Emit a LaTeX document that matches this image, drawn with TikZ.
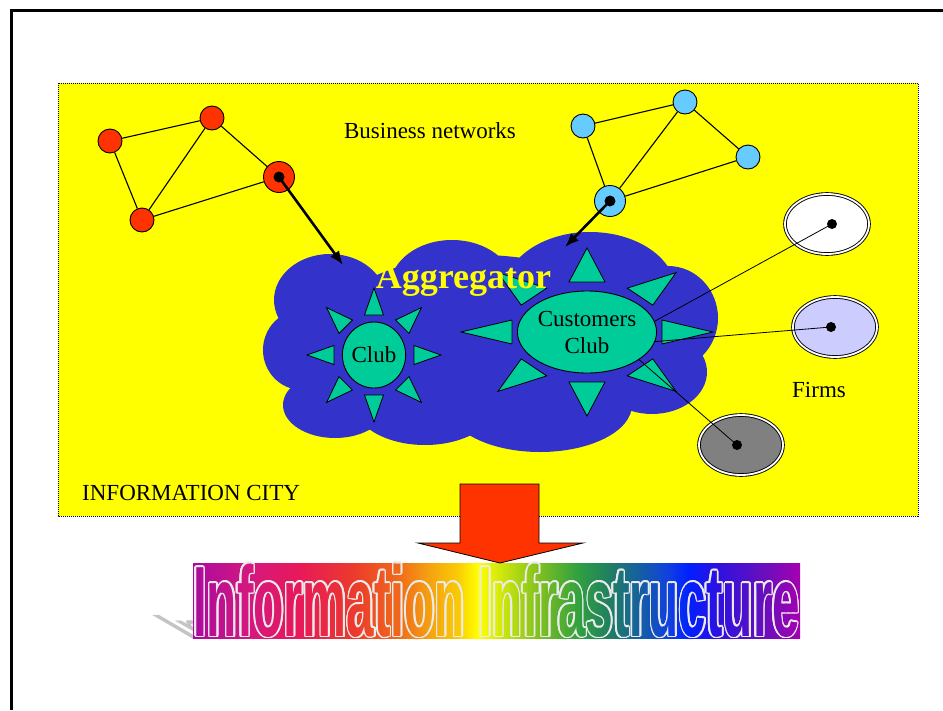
\documentclass[tikz,border=0pt]{standalone}
\usepackage{fontspec}
\setmainfont{Liberation Serif}
\newfontfamily\wordartfamily{Liberation Sans}
\usetikzlibrary{shapes.geometric,arrows.meta,calc}

\definecolor{cityyellow}{HTML}{FFFF00}
\definecolor{netred}{HTML}{FF3300}
\definecolor{netblue}{HTML}{66CCFF}
\definecolor{cloudblue}{HTML}{3333CC}
\definecolor{clubgreen}{HTML}{00CC99}
\definecolor{firmlilac}{HTML}{CCCCFF}
\definecolor{firmgray}{HTML}{808080}
\definecolor{shadowgray}{HTML}{C4C4C4}

% colour stops of the rainbow title (left to right)
\definecolor{g0}{RGB}{170,10,160}
\definecolor{g1}{RGB}{213,24,127}
\definecolor{g2}{RGB}{232,24,90}
\definecolor{g3}{RGB}{236,58,44}
\definecolor{g4}{RGB}{240,106,26}
\definecolor{g5}{RGB}{245,160,16}
\definecolor{g6}{RGB}{250,204,5}
\definecolor{g7}{RGB}{255,255,0}
\definecolor{g8}{RGB}{192,224,16}
\definecolor{g9}{RGB}{128,192,32}
\definecolor{g10}{RGB}{48,160,64}
\definecolor{g11}{RGB}{32,128,96}
\definecolor{g12}{RGB}{21,96,160}
\definecolor{g13}{RGB}{16,64,224}
\definecolor{g14}{RGB}{0,32,255}
\definecolor{g15}{RGB}{48,16,224}
\definecolor{g16}{RGB}{96,16,192}
\definecolor{g17}{RGB}{165,0,176}

% same stops as a shading; the band spans 25bp..75bp
\pgfdeclarehorizontalshading{rainbowband}{100bp}{%
  color(0bp)=(g0); color(25bp)=(g0); color(29.7bp)=(g1); color(33.65bp)=(g2);
  color(38.18bp)=(g3); color(41.88bp)=(g4); color(44.35bp)=(g5); color(46.82bp)=(g6);
  color(48.47bp)=(g7); color(50.94bp)=(g8); color(53.42bp)=(g9); color(56.71bp)=(g10);
  color(59.18bp)=(g11); color(61.65bp)=(g12); color(64.13bp)=(g13); color(65.77bp)=(g14);
  color(68.25bp)=(g15); color(71.54bp)=(g16); color(75bp)=(g17); color(100bp)=(g17)}

\newcommand\titlefont{\wordartfamily\bfseries\fontsize{100}{100}\selectfont}
\newcommand\titletext{Information Infrastructure}

\begin{document}
\begin{tikzpicture}[x=1pt, y=-1pt,
  netedge/.style={line width=1.1pt},
  rednode/.style={circle, draw, line width=0.9pt, fill=netred, minimum size=24pt, inner sep=0pt},
  hubred/.style={rednode, minimum size=31pt},
  bluenode/.style={circle, draw, line width=0.9pt, fill=netblue, minimum size=24pt, inner sep=0pt},
  hubblue/.style={bluenode, minimum size=31pt},
  hubdot/.style={circle, fill=black, minimum size=11pt, inner sep=0pt},
  feed/.style={line width=2.6pt, -{Latex[length=14pt,width=11pt]}},
  sunray/.style={fill=clubgreen, draw=black, line width=0.8pt},
  clubnode/.style={ellipse, draw, fill=clubgreen, line width=0.9pt, inner sep=0pt, align=center},
  firm/.style={ellipse, draw=black, double=white, double distance=1.8pt, line width=0.9pt,
               minimum width=84pt, minimum height=60pt, inner sep=0pt},
  firmlink/.style={line width=0.8pt},
  caption/.style={font=\fontsize{23}{27}\selectfont, inner sep=0pt},
  wordart/.style={font=\titlefont, xscale=0.494, inner sep=0pt},
]
\useasboundingbox (0,0) rectangle (943,710);
\fill[white] (0,0) rectangle (943,710);

% page frame
\draw[line width=3pt] (11,710) -- (11,10) -- (943,10);

% information city area
\draw[fill=cityyellow, dash pattern=on 1pt off 1pt, line width=0.9pt] (58,83) rectangle (918,516);
\node[caption, anchor=west] (city) at (82,493) {INFORMATION CITY};
\node[caption] (bizlabel) at (430,131) {Business networks};

% red business network
\node[rednode] (r1) at (110,141) {};
\node[rednode] (r2) at (212,118) {};
\node[rednode] (r3) at (142,220) {};
\node[hubred]  (r4) at (279,177) {};
\draw[netedge] (r1) -- (r2) (r1) -- (r3) (r2) -- (r3) (r2) -- (r4) (r3) -- (r4);
\node[hubdot] (r4dot) at (r4.center) {};

% blue business network
\node[bluenode] (b1) at (583,126) {};
\node[bluenode] (b2) at (685,102) {};
\node[bluenode] (b3) at (748,157) {};
\node[hubblue]  (b4) at (610,201) {};
\draw[netedge] (b1) -- (b2) (b1) -- (b4) (b2) -- (b4) (b2) -- (b3) (b3) -- (b4);
\node[hubdot] (b4dot) at (b4.center) {};

% aggregator cloud
\begin{scope}[cloudblue]
  \fill (330,300) ellipse [x radius=56pt, y radius=46pt];
  \fill (302,350) ellipse [x radius=39pt, y radius=40pt];
  \fill (335,405) ellipse [x radius=52pt, y radius=33pt];
  \fill (425,402) ellipse [x radius=72pt, y radius=43pt];
  \fill (452,287) ellipse [x radius=62pt, y radius=47pt];
  \fill (540,405) ellipse [x radius=92pt, y radius=47pt];
  \fill (590,292) ellipse [x radius=86pt, y radius=60pt];
  \fill (668,318) ellipse [x radius=50pt, y radius=52pt];
  \fill (652,372) ellipse [x radius=55pt, y radius=42pt];
  \fill (480,340) ellipse [x radius=160pt, y radius=85pt];
\end{scope}

% small club with its rays
\coordinate (c1) at (374,355);
\begin{scope}[shift={(c1)}]
  \foreach \a in {0,45,...,315}
    \filldraw[sunray] (\a:67) -- ($(\a:40)+(\a+90:9.5)$) -- ($(\a:40)+(\a-90:9.5)$) -- cycle;
\end{scope}
\node[clubnode, minimum width=62pt, minimum height=66pt, font=\fontsize{23}{27}\selectfont] (club) at (c1) {Club};

% customers club with its rays
\coordinate (c2) at (587,332);
\begin{scope}[shift={(c2)}, xscale=1.5]
  \foreach \a in {0,45,...,315}
    \filldraw[sunray] (\a:84) -- ($(\a:50)+(\a+90:12)$) -- ($(\a:50)+(\a-90:12)$) -- cycle;
\end{scope}
\node[clubnode, minimum width=124pt, minimum height=82pt, font=\fontsize{23}{27}\selectfont] (cc) at (c2) {Customers\\Club};

% firms
\node[firm, fill=white]     (f1) at (827,224) {};
\node[firm, fill=firmlilac] (f2) at (835,327) {};
\node[firm, fill=firmgray]  (f3) at (741,445) {};
\node[hubdot, minimum size=10pt] (f1dot) at (832,224) {};
\node[hubdot, minimum size=10pt] (f2dot) at (831,327) {};
\node[hubdot, minimum size=10pt] (f3dot) at (737,445) {};
\draw[firmlink] (f1dot.center) -- (cc.9);
\draw[firmlink] (f2dot.center) -- (cc.-8);
\draw[firmlink] (f3dot.center) -- (cc.-28);
\node[caption] (firms) at (819,390) {Firms};

% feeds from the business networks into the aggregator
\coordinate (aggL) at (343,265);
\coordinate (aggR) at (565,247);
\draw[feed] (r4dot.center) -- (aggL);
\draw[feed] (b4dot.center) -- (aggR);

\node[font=\bfseries\fontsize{36}{40}\selectfont, text=cityyellow, anchor=base, inner sep=0pt]
  (agg) at (463.5,288) {Aggregator};

% title shadow, slanted back to the left
\node[font=\titlefont, text=shadowgray, inner sep=0pt, anchor=base west,
      cm={0.494,0,-0.6,0.35,(0,0)}] (shadow) at (190,639.5) {\titletext};

% title band
\node[shade, shading=rainbowband, minimum width=607pt, minimum height=75pt, inner sep=0pt]
  (band) at (496.5,600.5) {};
% white outline of the letters
\foreach \a in {0,22.5,...,337.5}
  \node[wordart, text=white!92!black] at ($(band.center)+(\a:1.6)$) {\titletext};
% letter bodies in the band colours, one narrow slice at a time
\foreach \xa/\xb/\ca/\cb in {193/250/g0/g1, 250/300/g1/g2, 300/355/g2/g3, 355/400/g3/g4,
    400/430/g4/g5, 430/460/g5/g6, 460/480/g6/g7, 480/510/g7/g8, 510/540/g8/g9,
    540/580/g9/g10, 580/610/g10/g11, 610/640/g11/g12, 640/670/g12/g13, 670/690/g13/g14,
    690/720/g14/g15, 720/760/g15/g16, 760/801/g16/g17}{
  \foreach \t in {0,0.125,0.25,0.375,0.5,0.625,0.75,0.875}{
    \pgfmathsetmacro\xl{\xa+\t*(\xb-\xa)}
    \pgfmathsetmacro\xr{\xa+(\t+0.125)*(\xb-\xa)+0.7}
    \pgfmathsetmacro\p{100-(\t+0.0625)*100}
    \begin{scope}
      \clip (\xl,560) rectangle (\xr,641);
      \node[wordart, text=\ca!\p!\cb] at (band.center) {\titletext};
    \end{scope}
  }
}

% down arrow
\draw[fill=netred, line width=0.8pt] (460,484) -- (539,484) -- (539,543) -- (583,543)
  -- (500,563) -- (418,543) -- (460,543) -- cycle;
\end{tikzpicture}
\end{document}
